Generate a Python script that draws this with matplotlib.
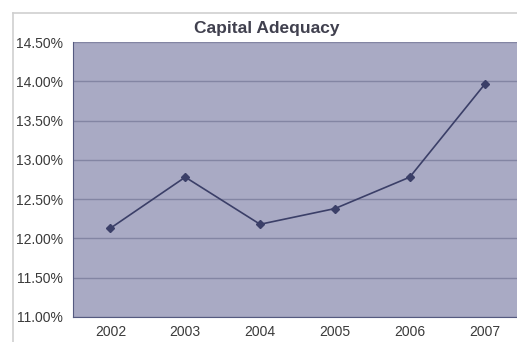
import matplotlib.pyplot as plt
from matplotlib.lines import Line2D
from matplotlib.ticker import FuncFormatter

years = ["2002", "2003", "2004", "2005", "2006", "2007"]
capital_adequacy = [12.13, 12.78, 12.18, 12.38, 12.78, 13.96]
y_ticks = [11.0, 11.5, 12.0, 12.5, 13.0, 13.5, 14.0, 14.5]

plt.rcParams["font.family"] = ["Liberation Sans", "DejaVu Sans"]

fig = plt.figure(figsize=(5.17, 3.42), dpi=100)
fig.patch.set_facecolor("white")

# outer chart frame, only left and top edges are visible (cropped)
fx, fy = 13 / 517, 1 - 13 / 342
fig.lines.append(Line2D([fx, fx], [0, fy], transform=fig.transFigure,
                        color="#cfcfcf", linewidth=1.2))
fig.lines.append(Line2D([fx, 1], [fy, fy], transform=fig.transFigure,
                        color="#cfcfcf", linewidth=1.2))

ax = fig.add_axes([73 / 517, 25 / 342, 449 / 517, 275 / 342])
ax.set_facecolor("#a9aac4")

x = list(range(len(years)))
ax.plot(x, capital_adequacy, color="#3b3f68", linewidth=1.2,
        marker="D", markersize=4.5, markerfacecolor="#3b3f68",
        markeredgecolor="#3b3f68", zorder=3)

ax.set_xlim(-0.5, len(years) - 0.5)
ax.set_ylim(11.0, 14.5)
ax.set_yticks(y_ticks)
ax.yaxis.set_major_formatter(FuncFormatter(lambda v, _: f"{v:.2f}%"))
ax.set_xticks(x)
ax.set_xticklabels(years)

ax.grid(axis="y", color="#8385a3", linewidth=1.0)
ax.set_axisbelow(True)
ax.tick_params(axis="both", length=0, labelsize=10, colors="#3a3a3a")
ax.tick_params(axis="y", pad=7)
ax.tick_params(axis="x", pad=6)

for side in ["top", "right"]:
    ax.spines[side].set_visible(False)
ax.spines["left"].set_color("#555a80")
ax.spines["bottom"].set_color("#555a80")

fig.text(267 / 517, 1 - 28 / 342, "Capital Adequacy", ha="center", va="center",
         fontsize=12.5, fontweight="bold", color="#40404e")

fig.savefig("out.png", dpi=100)
